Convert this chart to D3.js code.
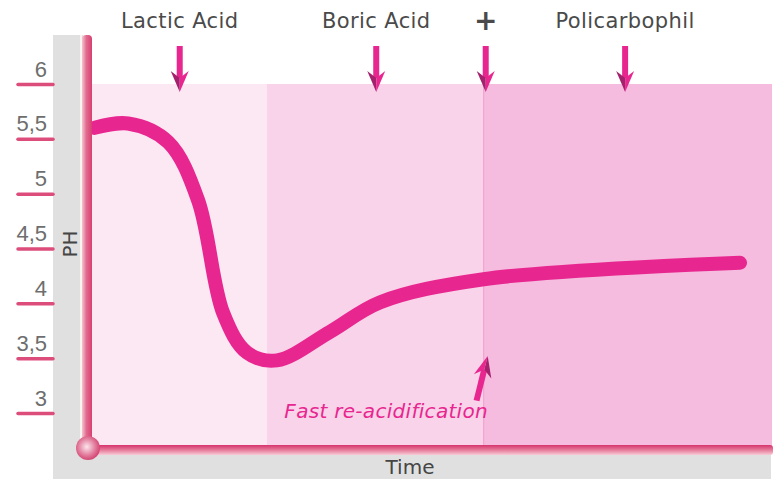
<!DOCTYPE html>
<html>
<head>
<meta charset="utf-8">
<script src="https://cdn.jsdelivr.net/npm/d3@7"></script>
<style>
  body { margin: 0; background: #fff; }
  svg { display: block; font-family: "DejaVu Sans", sans-serif; }
</style>
</head>
<body>
<div id="chart"></div>
<script>
var timePoints = [0.4, 5.3, 11.2, 15.6, 19.3, 22.8, 27.2, 35.0, 42.4, 57.6, 95.3];
var phValues   = [5.60, 5.64, 5.47, 4.94, 3.91, 3.55, 3.48, 3.74, 4.01, 4.22, 4.37];
var phTicks = [3, 3.5, 4, 4.5, 5, 5.5, 6];
var phaseNames = ["Lactic Acid", "Boric Acid", "+", "Policarbophil"];
var phaseMarks = [12.9, 41.8, 57.9, 78.4];
var zoneStarts = [0, 25.7, 57.6];
var zoneEnds = [25.7, 57.6, 100];
var noteText = "Fast re-acidification";

function Chart() {
    var self = this;
    this.width = 779;
    this.height = 479;
    this.svg = d3.select("#chart").append("svg")
        .attr("width", this.width).attr("height", this.height);

    this.x = d3.scaleLinear().domain([0, 100]).range([92, 772]);
    this.y = d3.scaleLinear().domain([3, 6]).range([413, 84]);

    var defs = this.svg.append("defs");
    var gv = defs.append("linearGradient").attr("id", "yBar").attr("x1", "0").attr("x2", "1").attr("y1", "0").attr("y2", "0");
    gv.append("stop").attr("offset", "0").attr("stop-color", "#f6c2cf");
    gv.append("stop").attr("offset", "0.45").attr("stop-color", "#e06a8f");
    gv.append("stop").attr("offset", "1").attr("stop-color", "#d83f70");
    var gh = defs.append("linearGradient").attr("id", "xBar").attr("x1", "0").attr("x2", "0").attr("y1", "0").attr("y2", "1");
    gh.append("stop").attr("offset", "0").attr("stop-color", "#d6336c");
    gh.append("stop").attr("offset", "0.5").attr("stop-color", "#e67a9b");
    gh.append("stop").attr("offset", "1").attr("stop-color", "#f8ccd7");
    var gb = defs.append("radialGradient").attr("id", "ball").attr("cx", "0.45").attr("cy", "0.45").attr("r", "0.6");
    gb.append("stop").attr("offset", "0").attr("stop-color", "#fbe6ec");
    gb.append("stop").attr("offset", "0.6").attr("stop-color", "#e27a9c");
    gb.append("stop").attr("offset", "1").attr("stop-color", "#cf3a6a");

    // gray strips behind the axes
    this.svg.append("rect").attr("x", 53).attr("y", 35).attr("width", 30).attr("height", 444).attr("fill", "#e0e0e0");
    this.svg.append("rect").attr("x", 53).attr("y", 450).attr("width", 718).attr("height", 29).attr("fill", "#e0e0e0");

    // phase zones
    var zoneColors = ["#fce8f3", "#f9d3e9", "#f5bcdf"];
    this.svg.selectAll("rect.zone").data(zoneStarts).enter().append("rect")
        .attr("class", "zone")
        .attr("x", function (d) { return self.x(d); })
        .attr("y", self.y(6))
        .attr("width", function (d, i) { return self.x(zoneEnds[i]) - self.x(d); })
        .attr("height", 450 - self.y(6))
        .attr("fill", function (d, i) { return zoneColors[i]; });
    this.svg.append("line")
        .attr("x1", self.x(zoneStarts[2])).attr("x2", self.x(zoneStarts[2]))
        .attr("y1", self.y(6)).attr("y2", 446)
        .attr("stroke", "#f39ccb").attr("stroke-width", 1);

    // white strip next to y bar
    this.svg.append("rect").attr("x", 80).attr("y", 35).attr("width", 2).attr("height", 416).attr("fill", "#f7f4f2");

    // y axis ticks
    var axis = d3.axisLeft(self.y).tickValues(phTicks).tickSize(35)
        .tickFormat(function (d) { return String(d).replace(".", ","); });
    var ga = this.svg.append("g").attr("transform", "translate(53,0)").call(axis);
    ga.select(".domain").remove();
    ga.selectAll(".tick line").attr("stroke", "#dd4d7c").attr("stroke-width", 3.5).attr("stroke-linecap", "round");
    ga.selectAll(".tick text").attr("x", -6).attr("dy", -8)
        .attr("fill", "#6e6e6e").attr("font-size", 22);

    // curve
    var line = d3.line()
        .x(function (d, i) { return self.x(timePoints[i]); })
        .y(function (d) { return self.y(d); })
        .curve(d3.curveCatmullRom.alpha(0.5));
    this.svg.append("path").datum(phValues)
        .attr("d", line)
        .attr("fill", "none")
        .attr("stroke", "#e8268f")
        .attr("stroke-width", 14)
        .attr("stroke-linecap", "round");

    // axes bars
    this.svg.append("rect").attr("x", 82).attr("y", 35).attr("width", 10).attr("height", 420).attr("rx", 4).attr("fill", "url(#yBar)");
    this.svg.append("rect").attr("x", 88).attr("y", 445).attr("width", 685).attr("height", 10).attr("rx", 3).attr("fill", "url(#xBar)");
    this.svg.append("circle").attr("cx", 88).attr("cy", 448).attr("r", 12).attr("fill", "url(#ball)");

    // axis titles
    this.svg.append("text").attr("x", 410).attr("y", 474).attr("text-anchor", "middle")
        .attr("font-size", 20).attr("fill", "#454545").text("Time");
    this.svg.append("text").attr("transform", "translate(77,244) rotate(-90)").attr("text-anchor", "middle")
        .attr("font-size", 20).attr("fill", "#454545").text("PH");

    // phase labels and arrows
    this.arrow = function (g) {
        g.append("rect").attr("x", -3).attr("y", 0).attr("width", 6).attr("height", 32).attr("fill", "#e8268f");
        g.append("path").attr("d", "M-9,25 L0,32 L0,46 Z").attr("fill", "#a3216d");
        g.append("path").attr("d", "M9,25 L0,32 L0,46 Z").attr("fill", "#e8268f");
    };
    phaseMarks.forEach(function (t, i) {
        var px = self.x(t);
        var lab = self.svg.append("text").attr("x", px).attr("y", 28).attr("text-anchor", "middle")
            .attr("fill", "#4a4a4a").text(phaseNames[i]);
        if (phaseNames[i] === "+") {
            lab.attr("font-size", 28).attr("font-weight", "bold").attr("y", 30);
        } else {
            lab.attr("font-size", 21).attr("letter-spacing", 0.4);
        }
        self.arrow(self.svg.append("g").attr("transform", "translate(" + px + ",46)"));
    });

    // annotation
    this.svg.append("text").attr("x", 488).attr("y", 418).attr("text-anchor", "end")
        .attr("font-size", 20).attr("letter-spacing", 0.3).attr("font-style", "italic").attr("fill", "#e8268f").text(noteText);
    var ax = self.x(zoneStarts[2]) + 4, ay = 356;
    var ag = this.svg.append("g").attr("transform", "translate(" + ax + "," + ay + ") rotate(194) translate(0,-46)");
    self.arrow(ag);
}

document.addEventListener("DOMContentLoaded", function () {
    new Chart();
});
</script>
</body>
</html>
